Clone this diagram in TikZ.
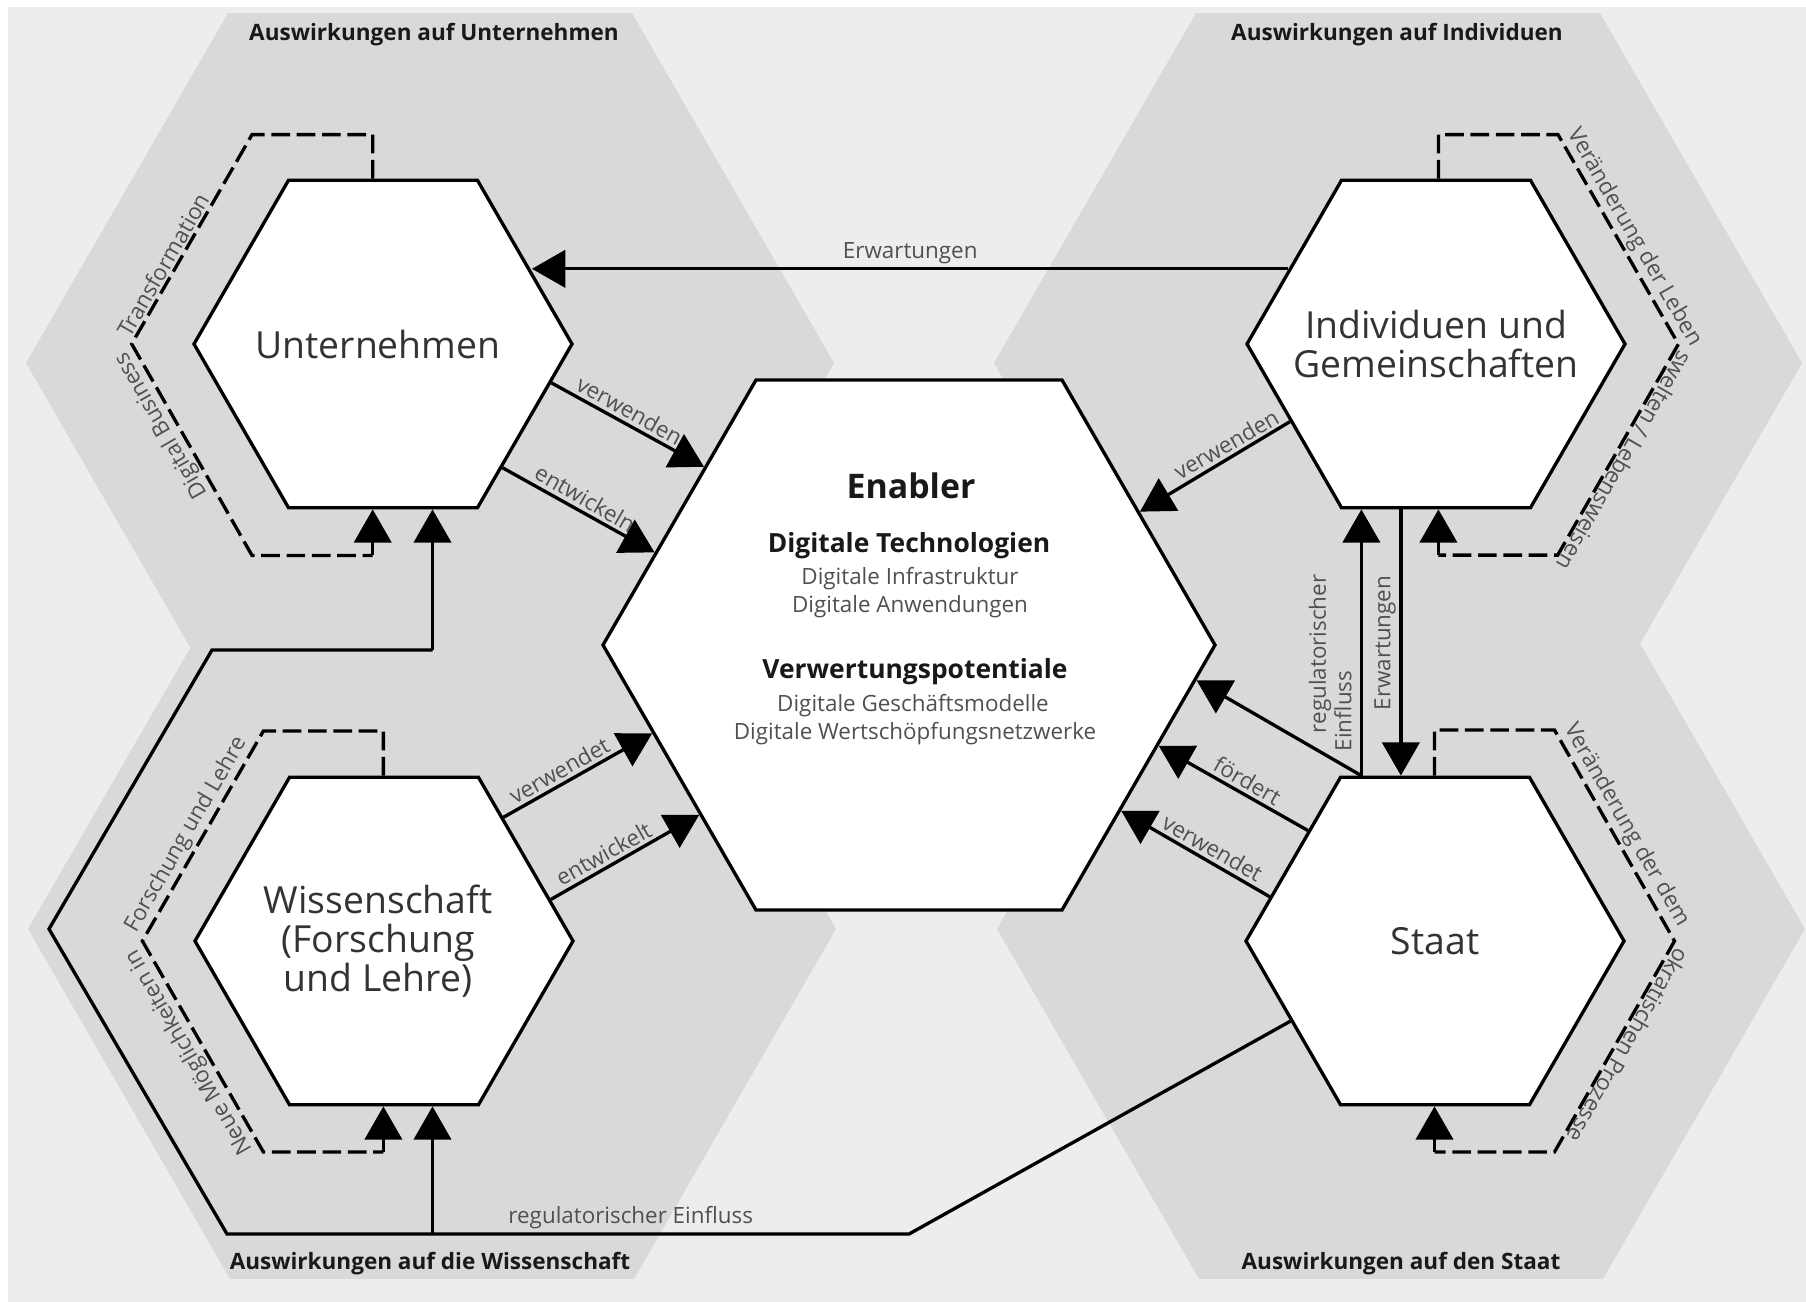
\documentclass[tikz,border=0pt]{standalone}
\usepackage{fontspec}
\setmainfont{Open Sans}
\usepackage{tikz}
\usetikzlibrary{shapes.geometric, arrows.meta, calc}

\definecolor{bgcolor}{HTML}{EDEDED}
\definecolor{hexgrey}{HTML}{D9D9D9}
\definecolor{txtdark}{HTML}{333333}
\definecolor{txtgrey}{HTML}{505050}

\begin{document}
\begin{tikzpicture}[x=0.75pt,y=0.75pt,yscale=-1,xscale=1,
  greyhex/.style={regular polygon, regular polygon sides=6, fill=hexgrey, inner sep=0pt, minimum size=606pt},
  hexnode/.style={regular polygon, regular polygon sides=6, draw=black, fill=white, line width=2.5pt, inner sep=0pt, minimum size=283.5pt},
  hextext/.style={align=center, text=txtdark, inner sep=0pt, font=\fontsize{28}{29.3}\selectfont},
  arr/.style={line width=2.5pt, -{Triangle[length=25pt,width=28pt]}},
  conn/.style={line width=2.5pt},
  dashloop/.style={line width=2.5pt, dash pattern=on 14pt off 5pt},
  lbl/.style={text=txtgrey, font=\fontsize{16.8}{18}\selectfont, inner sep=2.5pt},
  head/.style={font=\bfseries\fontsize{16.9}{18}\selectfont, text=black!90, anchor=base},
  entitle/.style={font=\bfseries\fontsize{25.4}{27}\selectfont, text=black!90, anchor=base},
  enhead/.style={font=\bfseries\fontsize{19.8}{21}\selectfont, text=black!90, anchor=base},
  enline/.style={font=\fontsize{16.8}{18}\selectfont, text=txtgrey, anchor=base}]
%set diagram size 1806 x 1302
\useasboundingbox (0,0) rectangle (1806,1302);
\fill[white] (0,0) rectangle (1806,1302);
\fill[bgcolor] (8,7) rectangle (1806,1302);

%Shape: Hexagon [grey areas]
\node[greyhex] (G1) at (430,363) {};
\node[greyhex] (G2) at (1398,363) {};
\node[greyhex] (G3) at (432,929) {};
\node[greyhex] (G4) at (1401,929) {};

% Text Node
\node[head] (hU) at (434,41) {Auswirkungen auf Unternehmen};
% Text Node
\node[head] (hI) at (1397,41) {Auswirkungen auf Individuen};
% Text Node
\node[head] (hW) at (430,1269.5) {Auswirkungen auf die Wissenschaft};
% Text Node
\node[head] (hS) at (1401,1269.5) {Auswirkungen auf den Staat};

%Shape: Hexagon [actors]
\node[hexnode, minimum size=459pt] (E) at (909,645) {};
\node[hexnode] (U) at (383,344) {};
\node[hexnode] (I) at (1436,344) {};
\node[hexnode] (W) at (384,941) {};
\node[hexnode] (S) at (1435,941) {};

% Text Node [actors]
\node[hextext] (Ut) at ($(U)+(-5,0)$) {Unternehmen};
\node[hextext] (It) at (I) {Individuen und\\Gemeinschaften};
\node[hextext] (Wt) at ($(W)+(-6,0)$) {Wissenschaft\\(Forschung\\und Lehre)};
\node[hextext] (St) at (S) {Staat};

% Text Node [enabler]
\node[entitle] (en1) at ($(E)+(2,-146.4)$) {Enabler};
\node[enhead] (en2) at ($(E)+(0,-93)$) {Digitale Technologien};
\node[enline] (en3) at ($(E)+(1,-60.7)$) {Digitale Infrastruktur};
\node[enline] (en4) at ($(E)+(1,-32.2)$) {Digitale Anwendungen};
\node[enhead] (en5) at ($(E)+(6,33)$) {Verwertungspotentiale};
\node[enline] (en6) at ($(E)+(4,66.7)$) {Digitale Geschäftsmodelle};
\node[enline] (en7) at ($(E)+(6,94)$) {Digitale Wertschöpfungsnetzwerke};

%Straight Lines [arrows to enabler]
\draw[arr] (U.-13.7) -- (E.139.3) node[lbl, pos=0.47, above, rotate=-29] (a1) {verwenden};
\draw[arr] (U.-46.8) -- (E.160.9) node[lbl, midway, above, rotate=-30] (a2) {entwickeln};
\draw[arr] (I.208.7) -- (E.30.2) node[lbl, pos=0.38, above, rotate=30] (a3) {verwenden};
\draw[arr] (W.46.2) -- (E.199.1) node[lbl, pos=0.42, above, rotate=29.5] (a4) {verwendet};
\draw[arr] (W.14) -- (E.219.1) node[lbl, pos=0.4, above, rotate=29.3] (a5) {entwickelt};
\draw[arr] (S.114.6) -- (E.-7.8);
\draw[arr] (S.139.8) -- (E.-22.5) node[lbl, pos=0.45, above, rotate=-30] (a6) {fördert};
\draw[arr] (S.165.6) -- (E.-38.4) node[lbl, pos=0.43, above, rotate=-29.8] (a7) {verwendet};

%Straight Lines [between actors]
\draw[arr] (I.153) -- (I.153 -| U.26.3) node[lbl, midway, above] (a8) {Erwartungen};
\draw[arr] (S.114.6) -- (S.114.6 |- I.south);
\draw[arr] (I.258.1) -- (I.258.1 |- S.north);
\node[lbl, rotate=90] (a9) at (1320,654) {regulatorischer};
\node[lbl, rotate=90] (a10) at (1343,711) {Einfluss};
\node[lbl, rotate=90] (a11) at (1385,643) {Erwartungen};

%Straight Lines [regulatory influence]
\coordinate (r1) at (909,1234);
\coordinate (r2) at (227,1234);
\coordinate (r3) at (49,929);
\coordinate (r4) at (212,650);
\coordinate (r5) at (432.5,650);
\draw[conn] (S.209.2) -- (r1) -- (r2) node[lbl, pos=0.408, above] (a12) {regulatorischer Einfluss} -- (r3) -- (r4) -- (r5);
\draw[arr] (r5) -- (r5 |- U.south);
\draw[arr] (r5 |- r2) -- (r5 |- W.south);

%Dashed Lines [loops]
\draw[dashloop] ($(U.north)+(-10.3,0)$) -- ++(0,-44) -- ++(-120.7,0) -- ++(-120.3,209.3) coordinate (uv) -- ++(120.3,211.5) -- ++(120.7,0) coordinate (ue);
\draw[arr] (ue) -- (ue |- U.south);
\node[lbl, rotate=60, anchor=south west] (lu1) at (uv) {Transformation};
\node[lbl, rotate=120, anchor=south east] (lu2) at (uv) {Digital Business};

\draw[dashloop] ($(I.north)+(2.4,0)$) -- ++(0,-44) -- ++(119.6,0) coordinate (itr) -- ++(120.4,209.5) coordinate (iv) -- ++(-120.7,211) -- ++(-119.3,0) coordinate (ie);
\draw[arr] (ie) -- (ie |- I.south);
\node[lbl, rotate=-60, anchor=south west] (li1) at (itr) {Veränderung der Leben};
\node[lbl, rotate=-120, anchor=south west] (li2) at (iv) {swelten / Lebensweisen};

\draw[dashloop] ($(W.north)+(-0.6,0)$) -- ++(0,-44.6) -- ++(-120,0) -- ++(-121,210) coordinate (wv) -- ++(121,211) -- ++(120,0) coordinate (we);
\draw[arr] (we) -- (we |- W.south);
\node[lbl, rotate=60, anchor=south west] (lw1) at (wv) {Forschung und Lehre};
\node[lbl, rotate=120, anchor=south east] (lw2) at (wv) {Neue Möglichkeiten in};

\draw[dashloop] ($(S.north)+(-0.5,0)$) -- ++(0,-45.6) -- ++(120,0) coordinate (str) -- ++(120,211) coordinate (sv) -- ++(-120,211) -- ++(-120,0) coordinate (se);
\draw[arr] (se) -- (se |- S.south);
\node[lbl, rotate=-60, anchor=south west] (ls1) at (str) {Veränderung der dem};
\node[lbl, rotate=-120, anchor=south west] (ls2) at (sv) {okratischen Prozesse};

\end{tikzpicture}
\end{document}
